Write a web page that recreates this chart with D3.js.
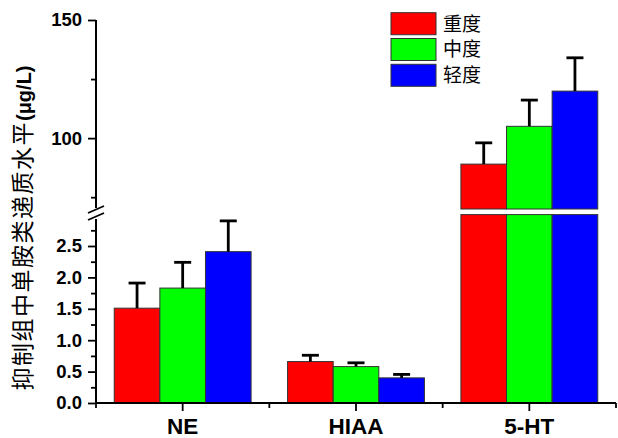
<!DOCTYPE html>
<html><head><meta charset="utf-8">
<script src="https://cdn.jsdelivr.net/npm/d3@7"></script>
<style>html,body{margin:0;padding:0;background:#fff;}</style>
</head><body>
<svg id="c" width="618" height="438"></svg>
<script>
const categories = ["NE", "HIAA", "5-HT"];
const seriesNames = ["重度", "中度", "轻度"];
const seriesColors = ["#ff0000", "#00ff00", "#0000ff"];
const severeVals = [1.51, 0.66, 89.0];
const severeErr  = [0.40, 0.10, 9.0];
const moderateVals = [1.83, 0.58, 105.0];
const moderateErr  = [0.41, 0.06, 11.1];
const mildVals = [2.41, 0.40, 119.9];
const mildErr  = [0.49, 0.055, 14.1];
const lowerMajorTicks = [0, 0.5, 1.0, 1.5, 2.0, 2.5];
const lowerMinorTicks = [0.25, 0.75, 1.25, 1.75, 2.25, 2.75];
const upperMajorTicks = [100, 150];
const upperMinorTicks = [75, 125];
const lowerDomain = [0, 3.0];
const upperDomain = [70, 150];

const vals = [severeVals, moderateVals, mildVals];
const errs = [severeErr, moderateErr, mildErr];

const svg = d3.select("#c");
const axisX0 = 96, axisX1 = 616, baseY = 403;
const x0 = d3.scaleBand().domain(categories).range([axisX0, axisX1]).paddingInner(0).paddingOuter(0);
const x1 = d3.scaleBand().domain(seriesNames).range([0, x0.bandwidth()]).paddingInner(0).paddingOuter(0.4);
const yL = d3.scaleLinear().domain(lowerDomain).range([baseY, 214.6]);
const yU = d3.scaleLinear().domain(upperDomain).range([209, 20]);

const numFont = "'Liberation Sans', Arial, sans-serif";
const cjkFont = "'Noto Sans CJK SC', sans-serif";

// bars
const data = [];
categories.forEach((c, i) => {
  seriesNames.forEach((s, j) => {
    data.push({c, s, j, v: vals[j][i], e: errs[j][i]});
  });
});
const g = svg.append("g");
data.forEach(d => {
  const x = x0(d.c) + x1(d.s), w = x1.bandwidth();
  const lowTop = yL(Math.min(d.v, lowerDomain[1]));
  g.append("rect").attr("x", x).attr("y", lowTop).attr("width", w).attr("height", yL(0) - lowTop)
    .attr("fill", seriesColors[d.j]).attr("stroke", "#333").attr("stroke-width", 1);
  let topY = lowTop;
  if (d.v > upperDomain[0]) {
    topY = yU(d.v);
    g.append("rect").attr("x", x).attr("y", topY).attr("width", w).attr("height", yU(upperDomain[0]) - topY)
      .attr("fill", seriesColors[d.j]).attr("stroke", "#333").attr("stroke-width", 1);
  }
  const eY = d.v > upperDomain[0] ? yU(d.v + d.e) : yL(d.v + d.e);
  const cx = x + w / 2;
  g.append("line").attr("x1", cx).attr("x2", cx).attr("y1", topY).attr("y2", eY)
    .attr("stroke", "#000").attr("stroke-width", 2.8);
  g.append("line").attr("x1", cx - 8.5).attr("x2", cx + 8.5).attr("y1", eY).attr("y2", eY)
    .attr("stroke", "#000").attr("stroke-width", 2.8);
});

// y axes
function styleAxis(sel) {
  sel.selectAll("path.domain").remove();
  sel.selectAll(".tick line").attr("stroke", "#000").attr("stroke-width", 1.8);
  sel.selectAll(".tick text").attr("font-family", numFont).attr("font-weight", "bold")
    .attr("font-size", "18.5px").attr("fill", "#000");
}
svg.append("g").attr("transform", `translate(${axisX0},0)`)
  .call(d3.axisLeft(yL).tickValues(lowerMajorTicks).tickSize(8).tickPadding(6).tickFormat(d3.format(".1f")))
  .call(styleAxis);
svg.append("g").attr("transform", `translate(${axisX0},0)`)
  .call(d3.axisLeft(yL).tickValues(lowerMinorTicks).tickSize(5).tickFormat(""))
  .call(styleAxis);
svg.append("g").attr("transform", `translate(${axisX0},0)`)
  .call(d3.axisLeft(yU).tickValues(upperMajorTicks).tickSize(8).tickPadding(6).tickFormat(d3.format("d")))
  .call(styleAxis);
svg.append("g").attr("transform", `translate(${axisX0},0)`)
  .call(d3.axisLeft(yU).tickValues(upperMinorTicks).tickSize(5).tickFormat(""))
  .call(styleAxis);

// y axis lines with break
svg.append("line").attr("x1", axisX0).attr("x2", axisX0).attr("y1", yU(150)).attr("y2", 208)
  .attr("stroke", "#000").attr("stroke-width", 2);
svg.append("line").attr("x1", axisX0).attr("x2", axisX0).attr("y1", 219).attr("y2", baseY)
  .attr("stroke", "#000").attr("stroke-width", 2);
[[88, 213, 104, 206], [88, 220, 104, 213]].forEach(p => {
  svg.append("line").attr("x1", p[0]).attr("y1", p[1]).attr("x2", p[2]).attr("y2", p[3])
    .attr("stroke", "#000").attr("stroke-width", 1.8);
});

// x axis
svg.append("line").attr("x1", axisX0 - 1).attr("x2", axisX1).attr("y1", baseY).attr("y2", baseY)
  .attr("stroke", "#000").attr("stroke-width", 2);
const xa = svg.append("g").attr("transform", `translate(0,${baseY})`)
  .call(d3.axisBottom(x0).tickSize(8).tickPadding(7));
xa.selectAll("path.domain").remove();
xa.selectAll(".tick line").attr("stroke", "#000").attr("stroke-width", 1.8);
xa.selectAll(".tick text").attr("font-family", numFont).attr("font-weight", "bold")
  .attr("font-size", "22.5px").attr("fill", "#000");
const minorX = categories.map(c => x0(c)).concat([axisX1]);
minorX.forEach(mx => {
  svg.append("line").attr("x1", mx).attr("x2", mx).attr("y1", baseY).attr("y2", baseY + 5)
    .attr("stroke", "#000").attr("stroke-width", 1.8);
});

// y title
const t = svg.append("text").attr("transform", "translate(31,228) rotate(-90)")
  .attr("text-anchor", "middle").attr("fill", "#000");
t.append("tspan").attr("font-family", cjkFont).attr("font-size", "23px").attr("letter-spacing", "1.5px")
  .text("抑制组中单胺类递质水平");
t.append("tspan").attr("font-family", numFont).attr("font-weight", "bold").attr("font-size", "20px")
  .text("(μg/L)");

// legend
seriesNames.forEach((s, j) => {
  const ly = 12.7 + j * 25.8;
  svg.append("rect").attr("x", 391).attr("y", ly).attr("width", 45).attr("height", 22)
    .attr("fill", seriesColors[j]).attr("stroke", "#333").attr("stroke-width", 1);
  svg.append("text").attr("x", 443).attr("y", ly + 11).attr("dy", "0.36em")
    .attr("font-family", cjkFont).attr("font-size", "19px").attr("fill", "#000").text(s);
});
</script>
</body></html>
